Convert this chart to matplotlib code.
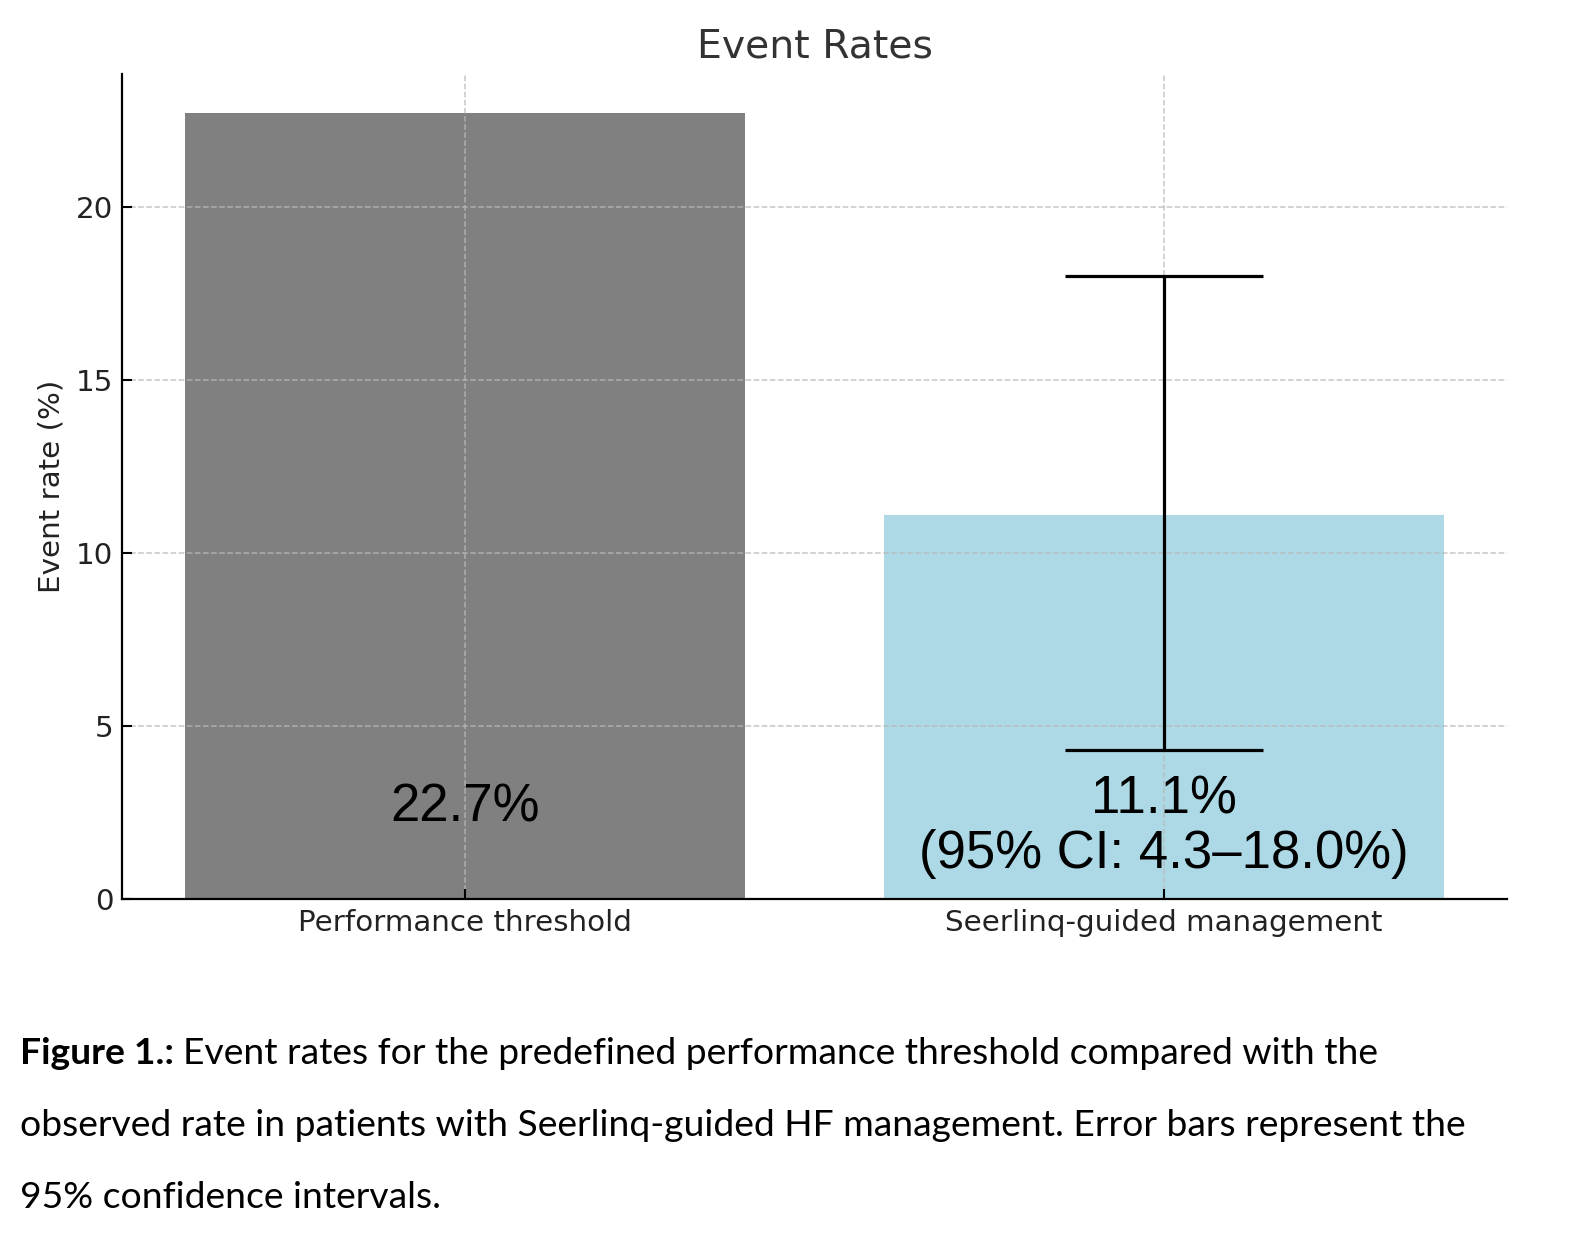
import matplotlib
matplotlib.use("Agg")
import matplotlib.pyplot as plt

# data
groups = ["Performance threshold", "Seerlinq-guided management"]
rates = [22.7, 11.1]
ci_low = 4.3
ci_high = 18.0
bar_colors = ["#808080", "#add8e6"]
labels = ["22.7%", "11.1%\n(95% CI: 4.3\u201318.0%)"]

fig = plt.figure(figsize=(15.76, 12.34), dpi=100)
ax = fig.add_axes([122 / 1576, 335 / 1234, 1385 / 1576, 825 / 1234])

x = list(range(len(groups)))
ax.bar(x, rates, width=0.8, color=bar_colors)

# error bar on the Seerlinq bar only
ax.errorbar([x[1]], [rates[1]],
            yerr=[[rates[1] - ci_low], [ci_high - rates[1]]],
            fmt="none", ecolor="black", elinewidth=2.3,
            capsize=71, capthick=2.3, zorder=3)

# value labels inside bars
ax.text(x[0], 2.65, labels[0], ha="center", va="center",
        fontsize=38, family="Liberation Sans", color="black", zorder=4)
ax.text(x[1], 2.08, labels[1], ha="center", va="center",
        fontsize=38, family="Liberation Sans", color="black",
        linespacing=1.12, zorder=4)

ax.set_xticks(x)
ax.set_xticklabels(groups, fontsize=21.2, color="#222222")
ax.set_xlim(-0.49, 1.49)
ax.set_ylim(0, 23.835)
ax.set_yticks([0, 5, 10, 15, 20])
ax.tick_params(axis="y", labelsize=21.2, labelcolor="#222222")
ax.tick_params(direction="in", length=7, width=1.5, pad=6)
ax.tick_params(axis="x", pad=7)
ax.set_ylabel("Event rate (%)", fontsize=21.2, color="#222222", labelpad=8)
ax.set_title("Event Rates", fontsize=28.4, color="#333333", pad=12)

ax.grid(True, linestyle="--", color="#b8b8b8", linewidth=1.1, alpha=0.8)
for side in ["top", "right"]:
    ax.spines[side].set_visible(False)
for side in ["left", "bottom"]:
    ax.spines[side].set_linewidth(1.6)
    ax.spines[side].set_color("black")

# caption below the chart: bold lead-in, then regular text
cap_font = "Lato"
cap_size = 26.8
fig.canvas.draw()
r = fig.canvas.get_renderer()
lead = fig.text(20 / 1576, 1 - 1053 / 1234, "Figure 1.:", fontsize=cap_size,
                family=cap_font, weight="bold", va="center", ha="left")
bb = lead.get_window_extent(renderer=r)
fig.text((bb.x1 + 9) / 1576, 1 - 1053 / 1234,
         "Event rates for the predefined performance threshold compared with the",
         fontsize=cap_size, family=cap_font, va="center", ha="left")
fig.text(20 / 1576, 1 - 1126 / 1234,
         "observed rate in patients with Seerlinq-guided HF management. Error bars represent the",
         fontsize=cap_size, family=cap_font, va="center", ha="left")
fig.text(20 / 1576, 1 - 1198 / 1234, "95% confidence intervals.",
         fontsize=cap_size, family=cap_font, va="center", ha="left")

fig.savefig("out.png", dpi=100)
